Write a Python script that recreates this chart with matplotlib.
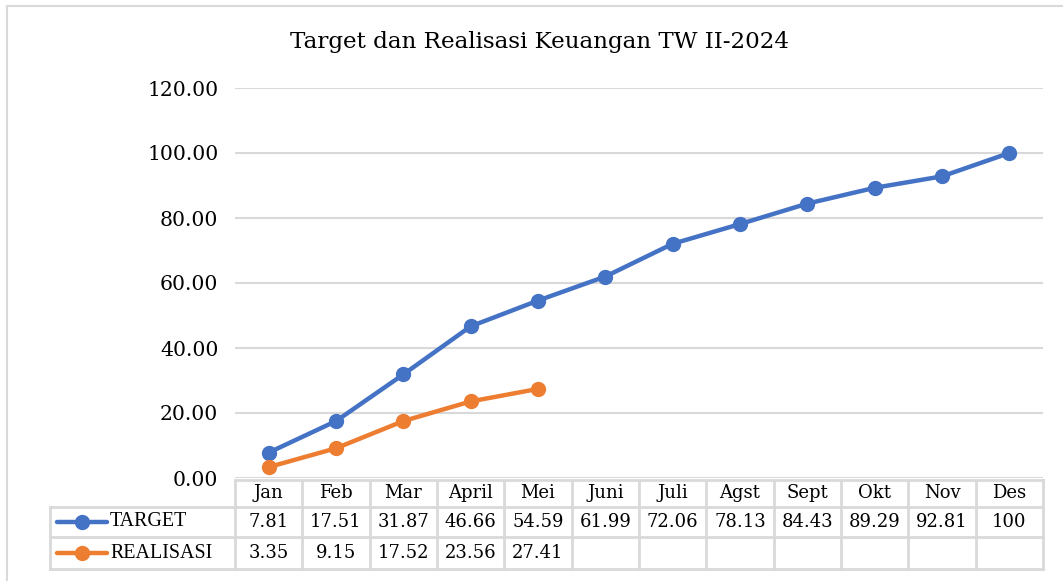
import matplotlib.pyplot as plt
from matplotlib.lines import Line2D
from matplotlib.patches import Rectangle

months = ["Jan", "Feb", "Mar", "April", "Mei", "Juni", "Juli", "Agst", "Sept", "Okt", "Nov", "Des"]
target = [7.81, 17.51, 31.87, 46.66, 54.59, 61.99, 72.06, 78.13, 84.43, 89.29, 92.81, 100]
realisasi = [3.35, 9.15, 17.52, 23.56, 27.41]
target_labels = ["7.81", "17.51", "31.87", "46.66", "54.59", "61.99", "72.06", "78.13", "84.43", "89.29", "92.81", "100"]
realisasi_labels = ["3.35", "9.15", "17.52", "23.56", "27.41"]
yticks = [0, 20, 40, 60, 80, 100, 120]

BLUE = "#4472C4"
ORANGE = "#ED7D31"
GRID = "#D9D9D9"
SERIF = ["DejaVu Serif"]
LEG_FONT = ["Liberation Serif"]

W, H = 1063, 581
fig = plt.figure(figsize=(W / 100, H / 100), dpi=100)

# outer chart frame
fig.patches.append(Rectangle((7 / W, -0.01), (W + 5 - 7) / W, (H - 6) / H + 0.01,
                             transform=fig.transFigure, fill=False,
                             edgecolor=GRID, lw=1.5))

left, right, top, bottom = 235, 1043, 88, 478
ax = fig.add_axes([left / W, 1 - bottom / H, (right - left) / W, (bottom - top) / H])

x = list(range(len(months)))
ax.plot(x, target, color=BLUE, lw=3.2, marker="o", ms=10, zorder=3, clip_on=False)
ax.plot(x[:len(realisasi)], realisasi, color=ORANGE, lw=3.2, marker="o", ms=10,
        zorder=3, clip_on=False)

ax.set_xlim(-0.5, len(months) - 0.5)
ax.set_ylim(0, 120)
ax.set_yticks(yticks)
ax.set_yticklabels([f"{v:.2f}" for v in yticks], fontsize=14.7, family=SERIF)
ax.tick_params(axis="y", length=0, pad=12)
ax.tick_params(axis="x", length=0, labelbottom=False)
ax.grid(axis="y", color=GRID, lw=1.5)
ax.set_axisbelow(True)
for s in ax.spines.values():
    s.set_visible(False)

fig.text(0.5 * (288 + 790) / W, 1 - 42 / H, "Target dan Realisasi Keuangan TW II-2024",
         ha="center", va="center", fontsize=16.6, family=SERIF)

# data table below the plot
ph = bottom - top
def ay(ypx):
    return (bottom - ypx) / ph

rows = [480, 507, 537, 569]
tbl_left = (50 - left) / (right - left)
tr = ax.get_xaxis_transform()
n = len(months)
kw = dict(color=GRID, lw=2, clip_on=False, zorder=1)

# horizontal lines
ax.plot([-0.5, n - 0.5], [ay(rows[0])] * 2, transform=tr, **kw)
for r in rows[1:]:
    ax.plot([tbl_left, 1], [ay(r)] * 2, transform=ax.transAxes, **kw)
# vertical lines
for i in range(n + 1):
    ax.plot([i - 0.5] * 2, [ay(rows[0]), ay(rows[-1])], transform=tr, **kw)
ax.plot([tbl_left] * 2, [ay(rows[1]), ay(rows[-1])], transform=ax.transAxes, **kw)

fs = 13
for i, m in enumerate(months):
    ax.text(i, ay((rows[0] + rows[1]) / 2), m, transform=tr, ha="center", va="center",
            fontsize=fs, family=SERIF)
for i, lab in enumerate(target_labels):
    ax.text(i, ay((rows[1] + rows[2]) / 2), lab, transform=tr, ha="center", va="center",
            fontsize=fs, family=SERIF)
for i, lab in enumerate(realisasi_labels):
    ax.text(i, ay((rows[2] + rows[3]) / 2), lab, transform=tr, ha="center", va="center",
            fontsize=fs, family=SERIF)

# legend keys inside the table
for name, col, (r0, r1) in [("TARGET", BLUE, (rows[1], rows[2])),
                            ("REALISASI", ORANGE, (rows[2], rows[3]))]:
    yc = 1 - ((r0 + r1) / 2) / H
    fig.add_artist(Line2D([57 / W, 107 / W], [yc, yc], color=col, lw=3.2,
                          solid_capstyle="round"))
    fig.add_artist(Line2D([82 / W], [yc], color=col, marker="o", ms=10))
    fig.text(110 / W, yc, name, ha="left", va="center", fontsize=14.4, family=LEG_FONT)

fig.savefig("out.png", dpi=100)
